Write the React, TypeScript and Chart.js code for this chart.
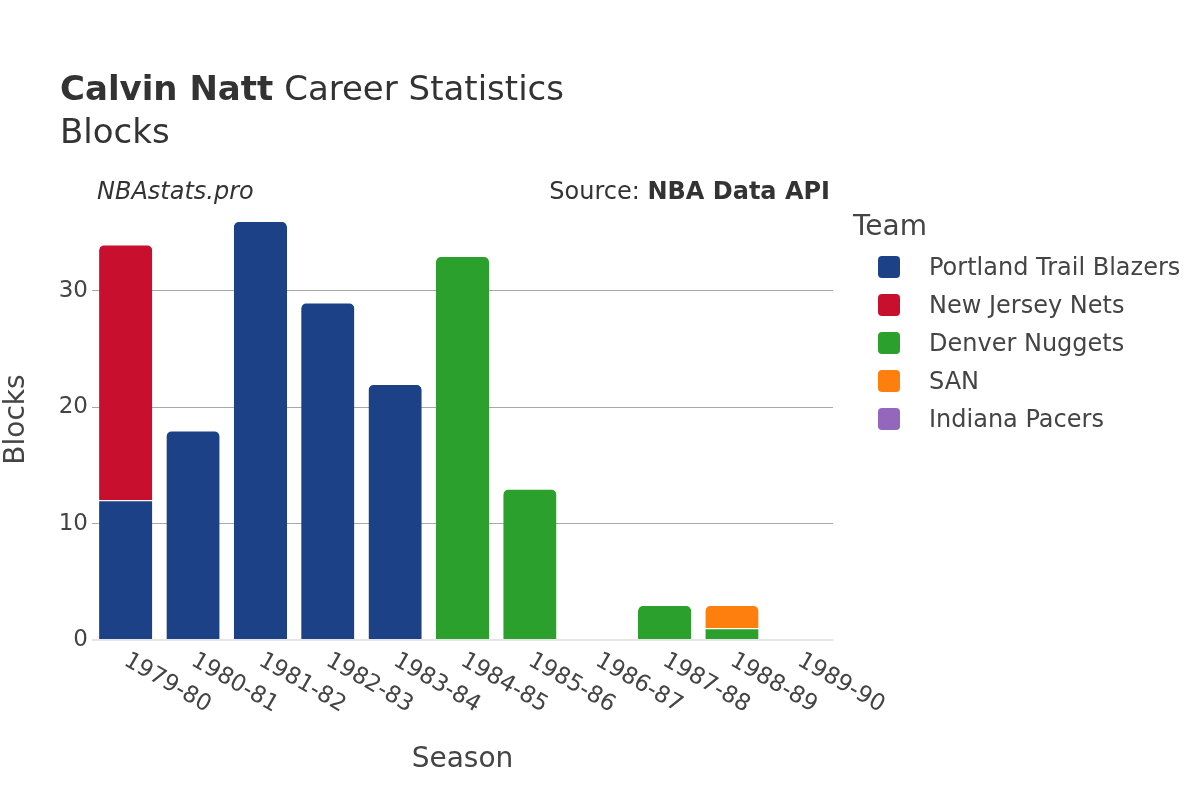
import React, { useEffect, useRef } from "react";
import { Chart, registerables } from "chart.js";

Chart.register(...registerables);

const seasons = ["1979-80", "1980-81", "1981-82", "1982-83", "1983-84", "1984-85", "1985-86", "1986-87", "1987-88", "1988-89", "1989-90"];
const portland = [12, 18, 36, 29, 22, null, null, null, null, null, null];
const newJersey = [22, null, null, null, null, null, null, null, null, null, null];
const denver = [null, null, null, null, null, 33, 13, 0, 3, 1, null];
const san = [null, null, null, null, null, null, null, null, null, 2, null];
const indiana = [null, null, null, null, null, null, null, null, null, null, 0];
const yTicks = [0, 10, 20, 30];

const teams = ["Portland Trail Blazers", "New Jersey Nets", "Denver Nuggets", "SAN", "Indiana Pacers"];
const teamColors = ["#1c4187", "#c8102e", "#2ca02c", "#ff7f0e", "#9467bd"];
const teamValues = [portland, newJersey, denver, san, indiana];

const FONT = "'DejaVu Sans', sans-serif";
const TEXT = "#444";

export default function App() {
  const ref = useRef<HTMLCanvasElement | null>(null);

  useEffect(() => {
    if (!ref.current) return;
    const radius = (ctx: any) => {
      const i = ctx.dataIndex;
      const dsets = ctx.chart.data.datasets;
      for (let k = ctx.datasetIndex + 1; k < dsets.length; k++) {
        const v = dsets[k].data[i];
        if (v) return { topLeft: 0, topRight: 0, bottomLeft: 0, bottomRight: 0 };
      }
      return { topLeft: 6, topRight: 6, bottomLeft: 0, bottomRight: 0 };
    };
    const xLabels = {
      id: "xLabels",
      afterDraw(chart: any) {
        const c = chart.ctx;
        const xs = chart.scales.x;
        c.save();
        c.font = `23px ${FONT}`;
        c.fillStyle = TEXT;
        c.textAlign = "left";
        c.textBaseline = "middle";
        seasons.forEach((s, i) => {
          const x = xs.getPixelForValue(i);
          c.save();
          c.translate(x, chart.chartArea.bottom + 19);
          c.rotate(Math.PI / 6);
          c.fillText(s, 0, 0);
          c.restore();
        });
        c.restore();
      },
    };
    const chart = new Chart(ref.current, {
      type: "bar",
      data: {
        labels: seasons,
        datasets: teams.map((t, k) => ({
          label: t,
          data: teamValues[k] as any,
          backgroundColor: teamColors[k],
          borderColor: "#ffffff",
          borderWidth: { top: 1, left: 0, right: 0, bottom: 0 },
          borderSkipped: "start",
          borderRadius: radius as any,
          barPercentage: 0.79,
          categoryPercentage: 1,
        })),
      },
      options: {
        responsive: false,
        animation: false,
        layout: { padding: { top: 199, right: 367, left: 0, bottom: 0 } },
        plugins: { legend: { display: false }, tooltip: { enabled: false }, title: { display: false } },
        scales: {
          x: {
            stacked: true,
            grid: { display: false },
            border: { display: false },
            ticks: { display: false },
            title: { display: true, text: "Season", color: TEXT, font: { family: FONT, size: 28 }, padding: { top: 0, bottom: 23 } },
            afterFit: (s: any) => { s.height = 160; },
          },
          y: {
            stacked: true,
            min: 0,
            max: 37.9,
            afterBuildTicks: (s: any) => { s.ticks = yTicks.map((v) => ({ value: v })); },
            grid: {
              drawTicks: false,
              color: (c: any) => (c.tick && c.tick.value === 0 ? "#e5e5e5" : "#a8a8a8"),
              lineWidth: (c: any) => (c.tick && c.tick.value === 0 ? 2 : 1),
            },
            border: { display: false },
            ticks: { color: TEXT, font: { family: FONT, size: 23 }, padding: 4 },
            title: { display: true, text: "Blocks", color: TEXT, font: { family: FONT, size: 28 }, padding: { top: 0, bottom: 0 } },
            afterFit: (s: any) => { s.width = 92; },
          },
        },
      },
      plugins: [xLabels],
    });
    return () => chart.destroy();
  }, []);

  const abs = (extra: React.CSSProperties): React.CSSProperties => ({
    position: "absolute",
    fontFamily: FONT,
    color: TEXT,
    lineHeight: 1,
    whiteSpace: "nowrap",
    ...extra,
  });

  return (
    <div style={{ position: "absolute", left: 0, top: 0, width: 1200, height: 800, background: "#fff" }}>
      <canvas ref={ref} width={1200} height={800} style={{ position: "absolute", left: 0, top: 0 }} />
      <div style={abs({ left: 60, top: 71, fontSize: 34, color: "#333" })}>
        <b>Calvin Natt</b> Career Statistics
      </div>
      <div style={abs({ left: 60, top: 114, fontSize: 34, color: "#333" })}>Blocks</div>
      <div style={abs({ left: 97, top: 179, fontSize: 24, fontStyle: "italic", color: "#333" })}>NBAstats.pro</div>
      <div style={abs({ right: 1200 - 830, top: 179, fontSize: 24, color: "#333" })}>
        Source: <b>NBA Data API</b>
      </div>
      <div style={abs({ left: 853, top: 212, fontSize: 28 })}>Team</div>
      {teams.map((t, k) => (
        <div key={t}>
          <div
            style={{
              position: "absolute",
              left: 878,
              top: 256 + k * 38,
              width: 22,
              height: 22,
              borderRadius: 4,
              background: teamColors[k],
            }}
          />
          <div style={abs({ left: 929, top: 255 + k * 38, fontSize: 24 })}>{t}</div>
        </div>
      ))}
    </div>
  );
}
